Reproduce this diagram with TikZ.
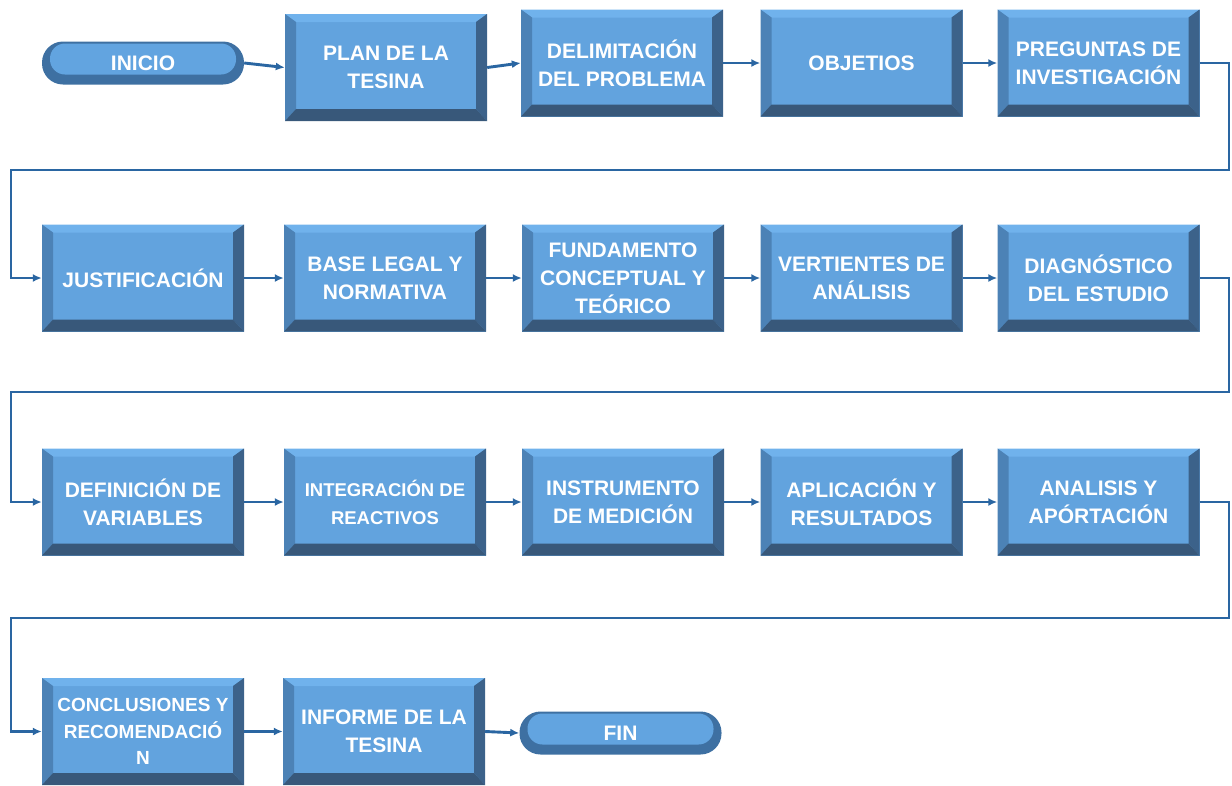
\documentclass[tikz,border=0pt]{standalone}
\usepackage{fontspec}
\setmainfont{Liberation Sans}
\usetikzlibrary{arrows.meta}
\definecolor{face}{RGB}{98,163,222}
\definecolor{btop}{RGB}{112,178,236}
\definecolor{bleft}{RGB}{76,130,182}
\definecolor{bright}{RGB}{60,98,138}
\definecolor{bbot}{RGB}{56,88,122}
\definecolor{pillout}{RGB}{62,112,162}
\definecolor{pillin}{RGB}{98,164,224}
\definecolor{conncol}{RGB}{42,102,162}
\tikzset{
  bevbox/.style={rectangle, minimum width=202pt, minimum height=107pt, inner sep=0pt,
    fill=face, text=white, align=center, font=\bfseries\fontsize{21}{28}\selectfont,
    path picture={
      \coordinate (NW) at (path picture bounding box.north west);
      \coordinate (NE) at (path picture bounding box.north east);
      \coordinate (SW) at (path picture bounding box.south west);
      \coordinate (SE) at (path picture bounding box.south east);
      \fill[btop] (NW) -- (NE) -- ([xshift=-11pt,yshift=-8pt]NE) -- ([xshift=11pt,yshift=-8pt]NW) -- cycle;
      \fill[bleft] (NW) -- ([xshift=11pt,yshift=-8pt]NW) -- ([xshift=11pt,yshift=12pt]SW) -- (SW) -- cycle;
      \fill[bright] (NE) -- ([xshift=-11pt,yshift=-8pt]NE) -- ([xshift=-11pt,yshift=12pt]SE) -- (SE) -- cycle;
      \fill[bbot] (SW) -- ([xshift=11pt,yshift=12pt]SW) -- ([xshift=-11pt,yshift=12pt]SE) -- (SE) -- cycle;
    }},
  pill/.style={rectangle, rounded corners=21pt, minimum width=202pt, minimum height=43pt, inner sep=0pt,
    fill=pillout, text=white, font=\bfseries\fontsize{21}{28}\selectfont,
    path picture={
      \fill[pillin, rounded corners=15pt] ([xshift=8pt,yshift=-2pt]path picture bounding box.north west) rectangle ([xshift=-8pt,yshift=10pt]path picture bounding box.south east);
    }},
  conn/.style={draw=conncol, line width=2.9pt, -{Latex[length=9pt,width=8pt]}}
}
\begin{document}
\begin{tikzpicture}[x=1pt,y=-1pt]
\useasboundingbox (0,0) rectangle (1232,785);
% row 1
\node[pill] (ini) at (143,63) {INICIO};
\node[bevbox] (plan) at (386,67.5) {PLAN DE LA\\TESINA};
\node[bevbox] (delim) at (622,63) {DELIMITACIÓN\\DEL PROBLEMA};
\node[bevbox] (obj) at (861.5,63) {OBJETIOS};
\node[bevbox] (preg) at (1098.5,63) {PREGUNTAS DE\\INVESTIGACIÓN};
% row 2
\node[bevbox] (just) at (143,278) {JUSTIFICACIÓN};
\node[bevbox] (base) at (385,278) {BASE LEGAL Y\\NORMATIVA};
\node[bevbox] (fund) at (623,278) {FUNDAMENTO\\CONCEPTUAL Y\\TEÓRICO};
\node[bevbox] (vert) at (861.5,278) {VERTIENTES DE\\ANÁLISIS};
\node[bevbox] (diag) at (1098.5,278) {DIAGNÓSTICO\\DEL ESTUDIO};
% row 3
\node[bevbox] (defi) at (143,502) {DEFINICIÓN DE\\VARIABLES};
\node[bevbox, font=\bfseries\fontsize{18.5}{28}\selectfont] (integ) at (385,502) {INTEGRACIÓN DE\\REACTIVOS};
\node[bevbox] (instr) at (623,502) {INSTRUMENTO\\DE MEDICIÓN};
\node[bevbox] (apli) at (861.5,502) {APLICACIÓN Y\\RESULTADOS};
\node[bevbox] (anal) at (1098.5,502) {ANALISIS Y\\APÓRTACIÓN};
% row 4
\node[bevbox, font=\bfseries\fontsize{19}{26.5}\selectfont] (conc) at (143,731.5) {CONCLUSIONES Y\\RECOMENDACIÓ\\N};
\node[bevbox] (info) at (384,731.5) {INFORME DE LA\\TESINA};
\node[pill] (fin) at (620.5,733) {FIN};
% wrap coordinates
\coordinate (r1) at (1229,170);
\coordinate (l1) at (11,170);
\coordinate (r2) at (1229,392);
\coordinate (l2) at (11,392);
\coordinate (r3) at (1229,618);
\coordinate (l3) at (11,618);
% connectors
\draw[conn] (ini.east) -- (plan.west);
\draw[conn] (plan.east) -- (delim.west);
\draw[conn] (delim.east) -- (obj.west);
\draw[conn] (obj.east) -- (preg.west);
\draw[conn] (preg.east) -| (r1) -- (l1) |- (just.west);
\draw[conn] (just.east) -- (base.west);
\draw[conn] (base.east) -- (fund.west);
\draw[conn] (fund.east) -- (vert.west);
\draw[conn] (vert.east) -- (diag.west);
\draw[conn] (diag.east) -| (r2) -- (l2) |- (defi.west);
\draw[conn] (defi.east) -- (integ.west);
\draw[conn] (integ.east) -- (instr.west);
\draw[conn] (instr.east) -- (apli.west);
\draw[conn] (apli.east) -- (anal.west);
\draw[conn] (anal.east) -| (r3) -- (l3) |- (conc.west);
\draw[conn] (conc.east) -- (info.west);
\draw[conn] (info.east) -- (fin.west);
\end{tikzpicture}
\end{document}
